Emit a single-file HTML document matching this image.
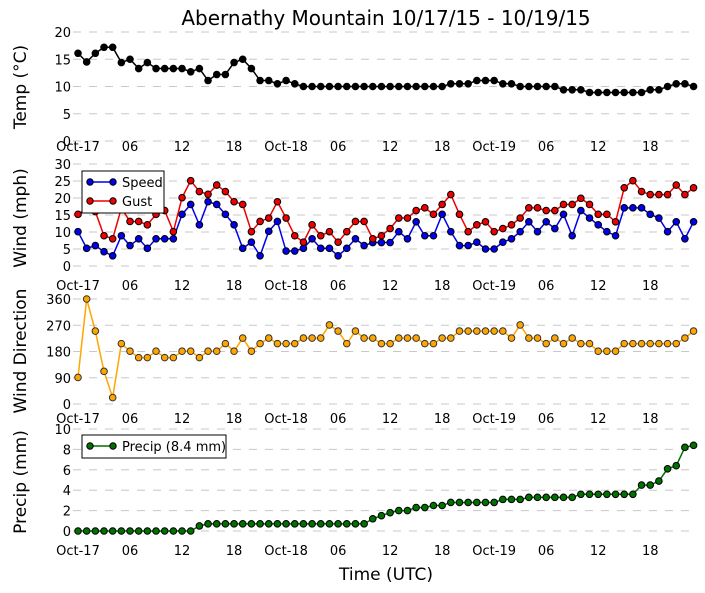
<!DOCTYPE html>
<html><head><meta charset="utf-8"><style>
html,body{margin:0;padding:0;background:#fff;}
svg{display:block;font-family:"DejaVu Sans","Liberation Sans",sans-serif;}
</style></head><body>
<svg id="chart" width="705" height="593" viewBox="0 0 705 593" xmlns="http://www.w3.org/2000/svg">
<text x="386" y="25" font-size="20" text-anchor="middle">Abernathy Mountain 10/17/15 - 10/19/15</text>
<text x="386" y="580" font-size="17" text-anchor="middle">Time (UTC)</text>
</svg>
<script>
const hours = Array.from({length:72},(_, i)=>i);
const xTickLabels = ["Oct-17","06","12","18","Oct-18","06","12","18","Oct-19","06","12","18"];
const xTickHours = [0,6,12,18,24,30,36,42,48,54,60,66];
const temp = [16.1,14.5,16.1,17.2,17.2,14.4,15,13.3,14.4,13.3,13.3,13.3,13.3,12.7,13.3,11.1,12.2,12.2,14.4,15,13.3,11.1,11.1,10.5,11.1,10.5,10,10,10,10,10,10,10,10,10,10,10,10,10,10,10,10,10,10.5,10.5,10.5,11.1,11.1,11.1,10.5,10.5,10,10,10,10,10,9.4,9.4,9.4,8.9,8.9,8.9,8.9,8.9,8.9,8.9,9.4,9.4,10,10.5,10.5,10];
const speed = [10.1,5.2,6,4.2,3,8.9,6,8,5.2,8,8,8,15.2,18.1,12.1,18.9,18.1,15.2,12.1,5.2,7,3,10.2,13.1,4.4,4.4,5.2,8,5.2,5.2,3,5.2,8,6,6.9,6.9,6.9,10.1,8,13,8.9,8.9,15.2,10.1,6,6,7,5,5,7,8,10.1,13,10.1,13,11,15.2,8.9,16.3,14.1,12.1,10.1,8.9,17.1,17.1,17.1,15.2,14.1,10.1,13,8,13];
const gust = [15.2,17,16,8.9,8,17,13.1,13.1,12.1,15.2,16.3,10.1,20.1,25.1,21.9,21.1,23.8,21.9,18.9,18.1,10.1,13.1,14.1,18.9,14.1,8.9,7,12.1,8.9,10.1,7,10.1,13.1,13.1,8,8.9,11,14.1,14.1,16.3,17.1,15.2,18.1,21,15.2,10.1,12.1,13,10.1,11,12.1,14.1,17.1,17.1,16.3,16.3,18.1,18.1,19.9,18.1,15.2,15.2,13,23,25.1,21.9,21,21,21,23.8,21,23];
const direction = [91,360,250,112,22,207,181,159,159,181,159,159,181,181,159,181,181,207,181,226,181,207,226,207,207,207,226,226,226,271,250,207,250,226,226,207,207,226,226,226,207,207,226,226,250,250,250,250,250,250,226,271,226,226,207,226,207,226,207,207,181,181,181,207,207,207,207,207,207,207,226,250];
const precip = [0,0,0,0,0,0,0,0,0,0,0,0,0,0,0.5,0.7,0.7,0.7,0.7,0.7,0.7,0.7,0.7,0.7,0.7,0.7,0.7,0.7,0.7,0.7,0.7,0.7,0.7,0.7,1.2,1.5,1.8,2.0,2.0,2.3,2.3,2.5,2.5,2.8,2.8,2.8,2.8,2.8,2.8,3.1,3.1,3.1,3.3,3.3,3.3,3.3,3.3,3.3,3.6,3.6,3.6,3.6,3.6,3.6,3.6,4.5,4.5,4.9,6.1,6.4,8.2,8.4];
const tempTicks = [0,5,10,15,20];
const windTicks = [0,5,10,15,20,25,30];
const dirTicks = [0,90,180,270,360];
const precipTicks = [0,2,4,6,8,10];

const NS = "http://www.w3.org/2000/svg";
const svg = document.getElementById('chart');
const X0 = 78, DX = 8.67, LEFT = 73, RIGHT = 696;
function xs(h){ return X0 + h*DX; }
function mk(tag, attrs, parent){ const e=document.createElementNS(NS,tag); for(const k in attrs) e.setAttribute(k,attrs[k]); (parent||svg).appendChild(e); return e; }

const panels = [
  {name:'temp', top:32, bottom:141, max:20, ticks:tempTicks, title:'Temp (\u00b0C)', titleY:87, labelY:146},
  {name:'wind', top:164, bottom:266, max:30, ticks:windTicks, title:'Wind (mph)', titleY:218, labelY:285},
  {name:'direction', top:299, bottom:404, max:360, ticks:dirTicks, title:'Wind Direction', titleY:351, labelY:418},
  {name:'precip', top:429, bottom:531, max:10, ticks:precipTicks, title:'Precip (mm)', titleY:482, labelY:550}
];
panels.forEach(p=>{
  p.ys = v => p.bottom - v/p.max*(p.bottom-p.top);
  const g = mk('g',{});
  
  
  p.ticks.forEach(t=>{
    const y = p.ys(t);
    const l = mk('line',{x1:LEFT,x2:RIGHT,y1:y,y2:y,stroke:'#c8c8c8','stroke-width':1,'stroke-dasharray':'8,8'},g);
    
    
    const tx = mk('text',{x:71,y:y+5,'font-size':13,'text-anchor':'end'},g);
    
    
    tx.textContent = t;
  });
  xTickHours.forEach((h,i)=>{
    const tx = mk('text',{x:xs(h),y:p.labelY+5,'font-size':13,'text-anchor':'middle'},g);
    
    
    tx.textContent = xTickLabels[i];
  });
  const tt = mk('text',{x:0,y:0,'font-size':17,'text-anchor':'middle',transform:`translate(26,${p.titleY}) rotate(-90)`},g);
  
  
  tt.textContent = p.title;
});

function series(p, data, color, edge, name, r){
  const g = mk('g',{});
  
  
  const pts = data.map((v,i)=>xs(hours[i])+','+p.ys(v)).join(' ');
  const pl = mk('polyline',{points:pts,fill:'none',stroke:color,'stroke-width':1.5},g);
  
  
  data.forEach((v,i)=>{
    const m = mk('circle',{cx:xs(hours[i]),cy:p.ys(v),r:r,fill:color,stroke:edge,'stroke-width':1},g);
    
    
  });
}
series(panels[0], temp, '#000', '#000', 'temp', 3.3);
series(panels[1], speed, '#0000ee', '#000', 'speed', 3.3);
series(panels[1], gust, '#ee0000', '#000', 'gust', 3.3);
series(panels[2], direction, '#ffa500', '#333', 'direction', 3.3);
series(panels[3], precip, '#007000', '#000', 'precip', 3.3);

function legend(x,y,w,h,entries,name){
  const g = mk('g',{});
  
  
  mk('rect',{x:x,y:y,width:w,height:h,fill:'#fff',stroke:'#000','stroke-width':1},g);
  entries.forEach((e,i)=>{
    const cy = y+11+i*19;
    const eg = mk('g',{},g);
    
    
    mk('line',{x1:x+8,x2:x+31,y1:cy,y2:cy,stroke:e.c,'stroke-width':1.5},eg);
    mk('circle',{cx:x+8,cy:cy,r:3.2,fill:e.c,stroke:'#000'},eg);
    mk('circle',{cx:x+31,cy:cy,r:3.2,fill:e.c,stroke:'#000'},eg);
    const t = mk('text',{x:x+40,y:cy+5,'font-size':13},eg);
    t.textContent = e.t;
  });
}
legend(82,171,82,42,[{c:'#0000ee',t:'Speed'},{c:'#ee0000',t:'Gust'}],'wind-legend');
legend(82,435,144,23,[{c:'#007000',t:'Precip (8.4 mm)'}],'precip-legend');
</script>
</body></html>
